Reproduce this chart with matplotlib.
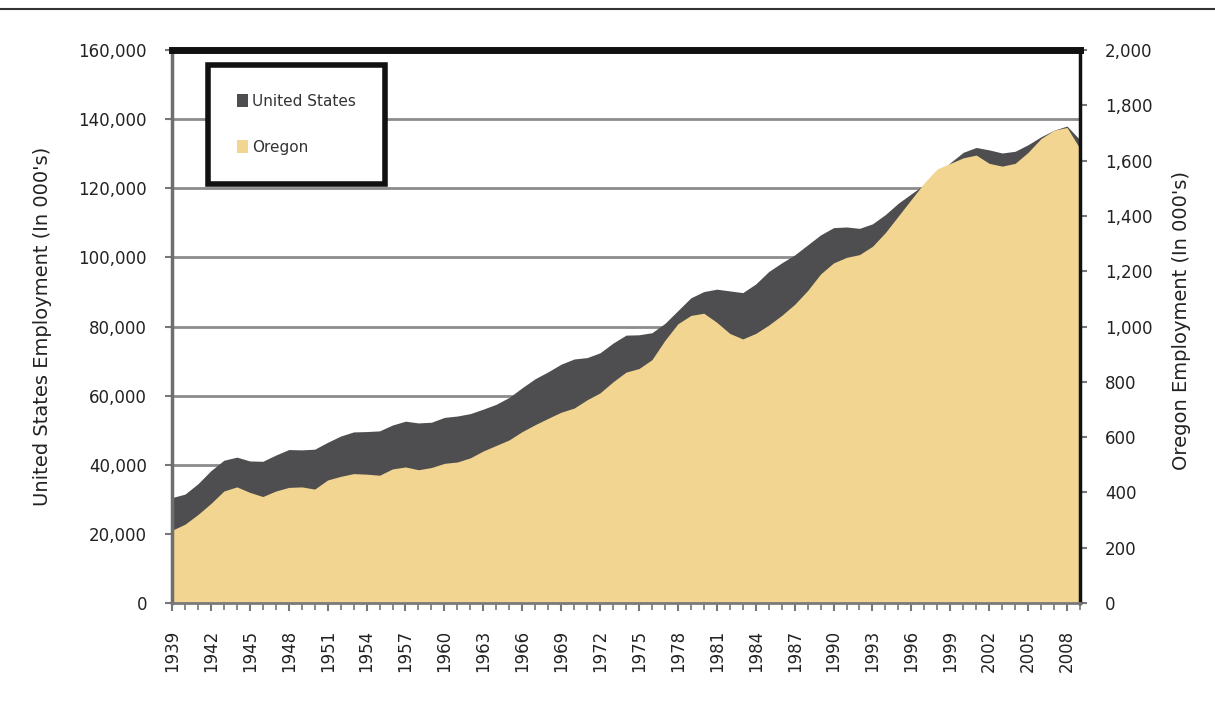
import matplotlib
matplotlib.use("Agg")
import matplotlib.pyplot as plt
from matplotlib.ticker import FuncFormatter, MultipleLocator
from matplotlib.patches import Patch
from matplotlib.lines import Line2D

# ---- data (January values, thousands) ----
years = list(range(1939, 2010))
us_employment = [
    30500, 31500, 34500, 38300, 41300, 42200, 41100, 41000, 42800, 44400,
    44300, 44500, 46500, 48300, 49500, 49600, 49800, 51500, 52600, 52100,
    52300, 53700, 54100, 54800, 56100, 57500, 59500, 62300, 64900, 66900,
    69100, 70600, 71000, 72400, 75200, 77500, 77600, 78200, 80900, 84600,
    88300, 90100, 90800, 90300, 89800, 92300, 95900, 98400, 100700, 103600,
    106500, 108600, 108800, 108400, 109700, 112400, 115700, 118400, 121100, 124300,
    127400, 130400, 131800, 131100, 130200, 130700, 132600, 134900, 136800, 138000,
    134000,
]
oregon_employment = [
    263, 285, 320, 360, 405, 420, 400, 385, 405, 418,
    420, 412, 445, 458, 468, 466, 462, 485, 492, 482,
    490, 505, 510, 525, 550, 570, 590, 620, 645, 668,
    690, 705, 735, 760, 800, 835, 848, 880, 950, 1010,
    1040, 1048, 1015, 975, 955, 975, 1005, 1040, 1080, 1130,
    1190, 1230, 1250, 1260, 1290, 1340, 1400, 1460, 1520, 1570,
    1590, 1610, 1620, 1590, 1580, 1590, 1630, 1680, 1710, 1720,
    1643,
]
label_years = list(range(1939, 2009, 3))
us_ticks = list(range(0, 160001, 20000))
or_ticks = list(range(0, 2001, 200))
series_names = ["United States", "Oregon"]

US_COLOR = "#4e4e50"
OR_COLOR = "#f1d590"

fig = plt.figure(figsize=(12.15, 7.06), dpi=100)
ax = fig.add_axes([172 / 1215, 103 / 706, 908 / 1215, 553 / 706])

ax.fill_between(years, 0, us_employment, color=US_COLOR, linewidth=0, zorder=2)
ax.set_xlim(1939, 2009)
ax.set_ylim(0, 160000)
ax.set_yticks(us_ticks)
ax.yaxis.set_major_formatter(FuncFormatter(lambda v, p: f"{int(v):,}"))
ax.set_axisbelow(True)
ax.yaxis.grid(True, color="#8c8c8c", linewidth=2)
ax.xaxis.grid(False)

ax.set_xticks(label_years)
ax.set_xticklabels([str(y) for y in label_years], rotation=90)
ax.xaxis.set_minor_locator(MultipleLocator(1))

ax2 = ax.twinx()
ax2.fill_between(years, 0, oregon_employment, color=OR_COLOR, linewidth=0, zorder=2)
ax2.set_ylim(0, 2000)
ax2.set_yticks(or_ticks)
ax2.yaxis.set_major_formatter(FuncFormatter(lambda v, p: f"{int(v):,}"))

tick_kw = dict(labelsize=12, labelcolor="#222222", color="#777777", width=1.5, length=5, pad=13)
ax.tick_params(axis="y", **tick_kw)
ax2.tick_params(axis="y", **tick_kw)
ax.tick_params(axis="x", which="major", labelsize=12, labelcolor="#222222",
               color="#777777", width=1.5, length=6, pad=13)
ax.tick_params(axis="x", which="minor", color="#777777", width=1.2, length=5)

for s in ax.spines.values():
    s.set_visible(False)
ax2.spines["top"].set_color("#111111")
ax2.spines["top"].set_linewidth(5)
ax2.spines["right"].set_color("#111111")
ax2.spines["right"].set_linewidth(2.5)
ax2.spines["left"].set_color("#6e6e6e")
ax2.spines["left"].set_linewidth(2.5)
ax2.spines["bottom"].set_color("#7a7a7a")
ax2.spines["bottom"].set_linewidth(2)

ax.set_ylabel("United States Employment (In 000's)", fontsize=14, color="#222222")
ax.yaxis.set_label_coords((52 - 172) / 908, 0.5)
ax2.set_ylabel("Oregon Employment (In 000's)", fontsize=14, color="#222222")
ax2.yaxis.set_label_coords((1172 - 172) / 908, 0.51)

handles = [Patch(facecolor=US_COLOR, edgecolor="none"),
           Patch(facecolor=OR_COLOR, edgecolor="none")]
x0 = (208 - 172) / 908
w = (385 - 208) / 908
top = (603 - 65) / 553
leg = ax2.legend(handles, series_names, loc="upper left",
                 bbox_to_anchor=(x0, top - 0.3, w, 0.3), mode="expand",
                 fontsize=11, frameon=True, fancybox=False, borderpad=1.9,
                 labelspacing=2.0, handlelength=0.7, handleheight=0.9,
                 handletextpad=0.3, borderaxespad=0)
fr = leg.get_frame()
fr.set_edgecolor("#111111")
fr.set_linewidth(4)
fr.set_facecolor("white")
fr.set_alpha(1)
for t in leg.get_texts():
    t.set_color("#333333")

fig.add_artist(Line2D([0, 1], [1 - 9 / 706, 1 - 9 / 706], transform=fig.transFigure,
                      color="#333333", linewidth=1.5))

fig.savefig("out.png", dpi=100)
